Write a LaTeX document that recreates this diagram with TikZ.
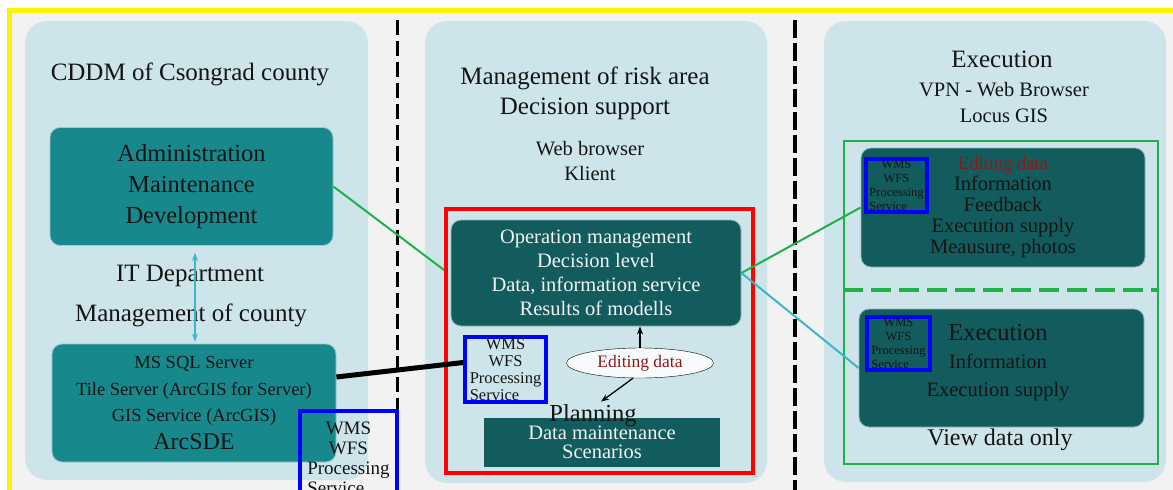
\documentclass[tikz,border=0pt]{standalone}
\usepackage{fontspec}
\setmainfont{Liberation Serif}
\usepackage{calc}
\usetikzlibrary{positioning, shapes.geometric, arrows.meta}

\definecolor{bggrey}{HTML}{F2F2F2}
\definecolor{panelblue}{HTML}{CDE5EA}
\definecolor{tealfill}{HTML}{17898D}
\definecolor{darkteal}{HTML}{135C5E}
\definecolor{arrowcyan}{HTML}{3AB6C6}
\definecolor{linegreen}{HTML}{1FB04C}
\definecolor{darkred}{HTML}{8B1A1A}
\definecolor{inktext}{HTML}{141414}

\newcommand{\fsz}[2]{\fontsize{#1}{#2}\selectfont}
\newcommand{\wmslist}{\makebox[\widthof{Processing}]{WMS}\\\makebox[\widthof{Processing}]{WFS}\\Processing\\Service}

\tikzset{
  panel/.style={fill=panelblue, rounded corners=22pt},
  tealbox/.style={fill=tealfill, draw=white!55!tealfill, line width=0.8pt,
    rounded corners=10pt, align=center, text=inktext},
  darkbox/.style={fill=darkteal, draw=white!55!darkteal, line width=0.8pt,
    rounded corners=10pt, align=center},
  wmsbox/.style={draw=blue, line width=3.5pt, align=left, inner sep=0pt, text=inktext},
  greenline/.style={draw=linegreen, line width=2pt},
  cyanline/.style={draw=arrowcyan, line width=2pt}
}

\begin{document}
\begin{tikzpicture}[x=1pt,y=-1pt,>={Stealth[length=8pt,width=6pt]},text=inktext]
  \useasboundingbox (0,0) rectangle (1173,490);
  \clip (0,0) rectangle (1173,490);
  \fill[white] (0,0) rectangle (1173,490);
  \fill[bggrey] (10,10) rectangle (1173,490);
  \draw[yellow, line width=5pt] (9.5,495) -- (9.5,10.5) -- (1180,10.5);

  % three panels
  \node[panel, minimum width=343, minimum height=459] (county) at (196.5,250.5) {};
  \node[panel, minimum width=342, minimum height=462] (risk) at (596,252) {};
  \node[panel, minimum width=342, minimum height=461] (field) at (995,251.5) {};

  \draw[line width=3pt, dash pattern=on 15pt off 6pt] (397,20) -- (397,495);
  \draw[line width=4pt, dash pattern=on 18pt off 5pt] (795,20) -- (795,495);

  % county side
  \node[font=\fsz{25}{30}] (cddm) at (190,74) {CDDM of Csongrad county};
  \node[tealbox, font=\fsz{24.5}{31}, minimum width=283, minimum height=118]
    (admin) at (191.5,186.5) {Administration\\Maintenance\\Development};
  \node[font=\fsz{25}{30}] (itdep) at (190,276) {IT Department};
  \node[font=\fsz{25}{30}] (mgmt) at (191,315) {Management of county};
  \node[tealbox, font=\fsz{18.5}{26.5}, minimum width=284, minimum height=118]
    (sql) at (194,403) {MS SQL Server\\Tile Server (ArcGIS for Server)\\GIS Service (ArcGIS)\\[1pt]{\fsz{24}{28}ArcSDE}};
  \draw[<->, cyanline, shorten <=7pt, shorten >=2pt] ([xshift=3.5pt]admin.south) -- ([xshift=1pt]sql.north);
  \node[wmsbox, font=\fsz{19}{20}, minimum width=97, minimum height=94] (wmsA) at (348.5,458) {\wmslist};

  % risk area side
  \node[font=\fsz{25}{30}, align=center] (risktitle) at (585,93) {Management of risk area\\Decision support};
  \node[font=\fsz{20.5}{25}, align=center] (web) at (590,160.5) {Web browser\\Klient};
  \node[draw=red, line width=4pt, minimum width=307, minimum height=264] (redbox) at (599.5,341) {};
  \node[darkbox, text=bggrey, font=\fsz{20.5}{24}, minimum width=290, minimum height=106]
    (opbox) at (596,273) {Operation management\\Decision level\\Data, information service\\Results of modells};
  \node[wmsbox, font=\fsz{16.5}{17}, minimum width=81, minimum height=65] (wmsB) at (505.5,369.5) {\wmslist};
  \node[ellipse, draw, fill=white!85!panelblue, text=darkred, font=\fsz{17.5}{20},
    minimum width=147, minimum height=30, inner sep=1pt] (edit) at (640,363) {Editing data};
  \node[fill=darkteal, text=bggrey, align=center, font=\fsz{20.5}{19.5}, minimum width=236, minimum height=49]
    (maint) at (602,442.5) {Data maintenance\\Scenarios};
  \node[font=\fsz{24.5}{28}, inner sep=0pt] (plan) at (593,416) {Planning};
  \draw[->, line width=1.3pt] (edit.north) -- (edit.north |- opbox.south);
  \draw[->, line width=1.3pt] ([xshift=-7pt]edit.south) -- ([xshift=8pt,yshift=3pt]plan.north);

  % field side
  \node[font=\fsz{25}{30}] (exectitle) at (1002,59) {Execution};
  \node[font=\fsz{20.5}{26}, align=center] (vpn) at (1004,102) {VPN - Web Browser\\Locus GIS};
  \node[draw=linegreen, line width=2.5pt, minimum width=314, minimum height=323] (greenfr) at (1001,302.5) {};
  \draw[greenline, line width=4pt, dash pattern=on 20pt off 8pt]
    ([yshift=12.5pt]greenfr.west) -- ([yshift=12.5pt]greenfr.east);
  \node[darkbox, font=\fsz{20.5}{21}, minimum width=284, minimum height=119]
    (editbox) at (1003,207.5) {{\color{darkred}\fsz{18.5}{21}Editing data}\\Information\\Feedback\\Execution supply\\Meausure, photos};
  \node[wmsbox, font=\fsz{12.5}{14}, minimum width=61, minimum height=53] (wmsC) at (896.5,185.5) {\wmslist};
  \node[darkbox, minimum width=285, minimum height=118] (viewbox) at (1001.5,368) {};
  \node[align=center, font=\fsz{20.5}{28}] (viewtext) at (998,363)
    {{\fsz{24.5}{28}Execution}\\Information\\Execution supply};
  \node[wmsbox, font=\fsz{12.5}{14}, minimum width=63, minimum height=53] (wmsD) at (898.5,343.5) {\wmslist};
  \node[font=\fsz{24}{28}] (viewonly) at (1000,440) {View data only};

  % connectors
  \draw[greenline] (admin.east) -- ([yshift=71pt]redbox.west);
  \draw[line width=5pt] ([yshift=26pt]sql.east) -- ([yshift=7pt]wmsB.west);
  \draw[greenline] (opbox.east) -- (editbox.west);
  \draw[cyanline] (opbox.east) -- (viewbox.west);
\end{tikzpicture}
\end{document}
